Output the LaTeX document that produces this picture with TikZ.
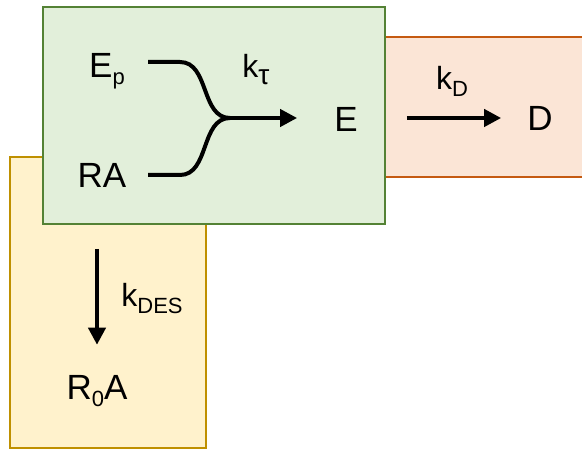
\documentclass[tikz,border=0pt]{standalone}
\usepackage{fontspec}
\setmainfont{Liberation Sans}
\usetikzlibrary{arrows.meta}

\definecolor{greenfill}{HTML}{E2EFDA}
\definecolor{greenline}{HTML}{548235}
\definecolor{orangefill}{HTML}{FBE5D6}
\definecolor{orangeline}{HTML}{C55A11}
\definecolor{yellowfill}{HTML}{FFF2CC}
\definecolor{yellowline}{HTML}{BF9000}

\newcommand{\lowsub}[2][22]{\raisebox{-0.2em}{\fontsize{#1}{#1}\selectfont #2}}

\begin{document}
\begin{tikzpicture}[x=1pt,y=-1pt,
    box/.style={line width=2pt},
    species/.style={anchor=base,inner sep=0pt,font=\fontsize{35}{40}\selectfont},
    rate/.style={anchor=base,inner sep=0pt,font=\fontsize{32}{36}\selectfont},
    bond/.style={line width=4pt},
    flow/.style={line width=4pt,-{Triangle[length=17pt,width=17pt]}}
]
\useasboundingbox (0,0) rectangle (582,449);

% compartments
\draw[box,draw=yellowline,fill=yellowfill] (10,157) rectangle (206,448);
\draw[box,draw=orangeline,fill=orangefill] (385,37) rectangle (595,177);
\draw[box,draw=greenline,fill=greenfill]   (43,7) rectangle (385,224);

\node[species] (Ep)  at (107,78)  {E\lowsub{p}};
\node[species] (RA)  at (102,188) {RA};
\node[species] (E)   at (346,132) {E};
\node[species] (D)   at (540,131) {D};
\node[species] (R0A) at (97,400)  {R\lowsub{0}A};

\node[rate] (ktau) at (256,78)  {k\lowsub[28]{τ}};
\node[rate] (kD)   at (452,90)  {k\lowsub{D}};
\node[rate] (kDES) at (152,307) {k\lowsub{DES}};

\coordinate (epEnd) at (148,62);
\coordinate (raEnd) at (148,175);
\coordinate (join)  at (230,118);
\coordinate (desTop) at (97,249);

\draw[bond] (epEnd) -- ++(32,0) to[out=0,in=180] (join);
\draw[bond] (raEnd) -- ++(32,0) to[out=0,in=180] (join);
\draw[flow,shorten >=37pt] (join) -- (join -| E.west);
\draw[flow,shorten <=49pt,shorten >=26pt] (join -| E.east) -- (join -| D.west);
\draw[flow,shorten >=31pt] (desTop) -- (desTop |- R0A.north);
\end{tikzpicture}
\end{document}
